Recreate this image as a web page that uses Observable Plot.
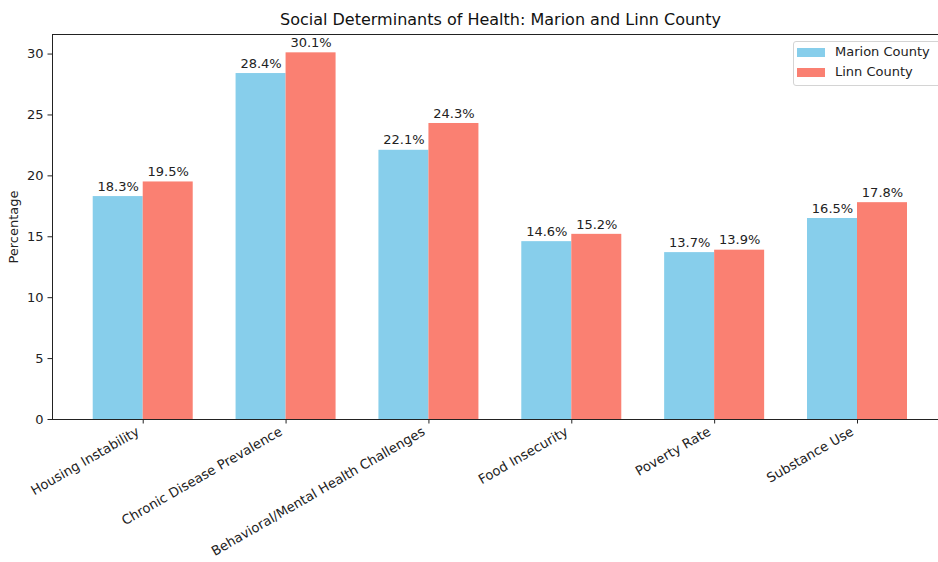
<!DOCTYPE html>
<html><head><meta charset="utf-8">
<script src="https://cdn.jsdelivr.net/npm/d3@7"></script>
<script src="https://cdn.jsdelivr.net/npm/@observablehq/plot@0.6"></script>
<style>
body{margin:0;background:#fff;font-family:"DejaVu Sans",sans-serif;}
#wrap{position:relative;width:938px;height:562px;overflow:hidden;}
.legend{position:absolute;left:793px;top:41px;width:152px;height:45px;border:1px solid #d4d4d4;border-radius:3px;background:rgba(255,255,255,0.8);box-sizing:border-box;font-size:13px;color:#222;}
.legend .item{position:absolute;left:3px;height:9px;}
.legend .sw{position:absolute;left:0;top:0;width:28px;height:9px;}
.legend .lab{position:absolute;left:38px;top:-4px;white-space:nowrap;line-height:16px;}
</style>
</head><body>
<div id="wrap"></div>
<script>
const categories = ["Housing Instability","Chronic Disease Prevalence","Behavioral/Mental Health Challenges","Food Insecurity","Poverty Rate","Substance Use"];
const seriesNames = ["Marion County","Linn County"];
const marion = [18.3,28.4,22.1,14.6,13.7,16.5];
const linn = [19.5,30.1,24.3,15.2,13.9,17.8];
const colors = ["#87CEEB","#FA8072"];
const yTicks = [0,5,10,15,20,25,30];
const title = "Social Determinants of Health: Marion and Linn County";
const yLabel = "Percentage";

const barWidth = 0.35;
const rows = [];
categories.forEach((c, i) => {
  [marion, linn].forEach((vals, s) => {
    rows.push({category: c, series: seriesNames[s], value: vals[i],
      x1: i + (s - 1) * barWidth, x2: i + s * barWidth, xc: i + (s - 0.5) * barWidth});
  });
});

const chart = Plot.plot({
  width: 938, height: 562,
  marginTop: 34, marginLeft: 52, marginRight: 0, marginBottom: 143,
  style: {fontFamily: "DejaVu Sans", fontSize: "13px", color: "#222", background: "white"},
  x: {type: "linear", domain: [-0.635, 5.567]},
  y: {domain: [0, 31.605]},
  color: {domain: seriesNames, range: colors},
  marks: [
    Plot.rectY(rows, {x1: "x1", x2: "x2", y1: 0, y2: "value", fill: "series"}),
    Plot.text(rows, {x: "xc", y: "value", text: d => d.value.toFixed(1) + "%", dy: -10, lineAnchor: "middle", fill: "#222"}),
    Plot.frame({anchor: "left", stroke: "#222"}),
    Plot.frame({anchor: "top", stroke: "#222"}),
    Plot.frame({anchor: "bottom", stroke: "#222"}),
    Plot.axisY({ticks: yTicks, tickSize: 4.5, tickPadding: 4.5, label: null, tickFormat: d => d}),
    Plot.axisX({ticks: categories.map((_, i) => i), tickSize: 4.5, tickFormat: () => "", label: null}),
    Plot.text(categories, {x: (d, i) => i, text: d => d, frameAnchor: "bottom", rotate: -30, textAnchor: "end", lineAnchor: "middle", dx: -5, dy: 11, fontSize: 13.2, fill: "#222"}),
    Plot.text([yLabel], {text: d => d, frameAnchor: "left", rotate: -90, dx: -39, textAnchor: "middle", lineAnchor: "middle", fill: "#222"}),
    Plot.text([title], {text: d => d, frameAnchor: "top", dx: 5, dy: -15, lineAnchor: "middle", fontSize: 16, fill: "#111"})
  ]
});
const wrap = document.getElementById("wrap");
wrap.appendChild(chart);

const legend = document.createElement("div");
legend.className = "legend";
seriesNames.forEach((name, s) => {
  const item = document.createElement("div");
  item.className = "item";
  item.style.top = (6 + s * 20) + "px";
  const sw = document.createElement("div");
  sw.className = "sw";
  sw.style.background = colors[s];
  const lab = document.createElement("div");
  lab.className = "lab";
  lab.textContent = name;
  item.appendChild(sw); item.appendChild(lab);
  legend.appendChild(item);
});
wrap.appendChild(legend);
</script>
</body></html>
